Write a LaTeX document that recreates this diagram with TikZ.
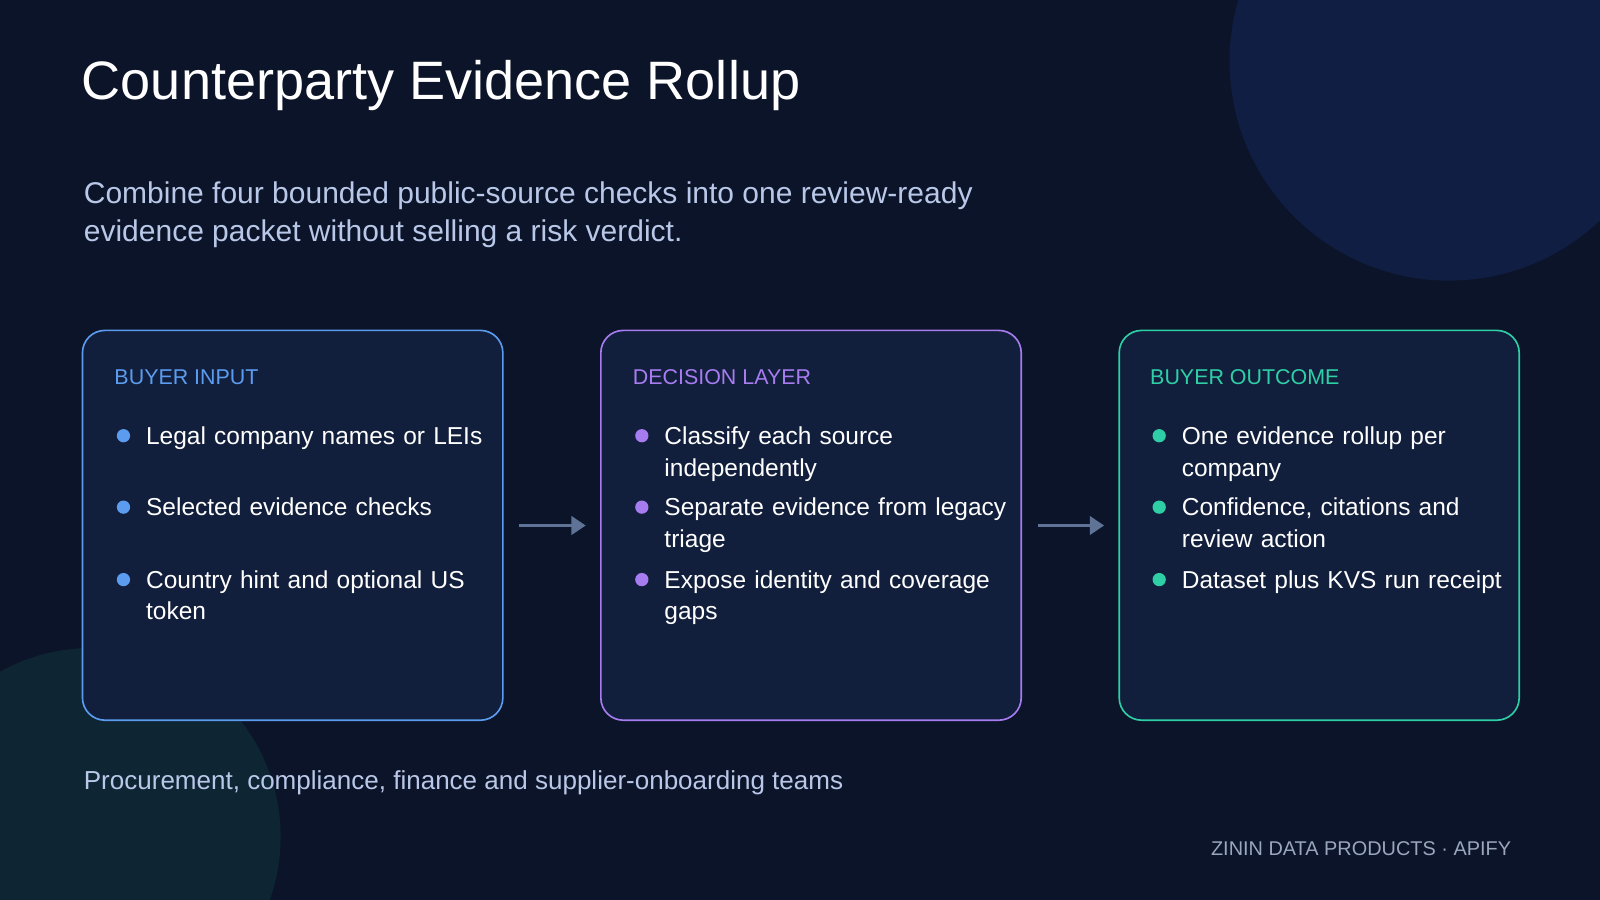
\documentclass[tikz,border=0pt]{standalone}
\usepackage{fontspec}
\setmainfont{Liberation Sans}
\usetikzlibrary{arrows.meta}
\definecolor{bg}{HTML}{0B1428}
\definecolor{boxfill}{HTML}{121F3C}
\definecolor{cblue}{HTML}{5B9CF0}
\definecolor{cpurple}{HTML}{A77CF0}
\definecolor{cteal}{HTML}{2ECFA6}
\definecolor{sub}{HTML}{B9C8E8}
\definecolor{arr}{HTML}{5E7396}
\definecolor{foot}{HTML}{9AA6BC}
\definecolor{circA}{HTML}{111E44}
\definecolor{circB}{HTML}{0E2534}
\begin{document}
\begin{tikzpicture}[x=1pt,y=-1pt,
  card/.style={draw=#1,line width=1.6pt,rounded corners=22pt,fill=boxfill},
  head/.style={anchor=base west,text=#1,font=\fontsize{21}{25}\selectfont,inner sep=0pt},
  item/.style={anchor=north west,text=white,font=\fontsize{24}{31}\selectfont,align=left,text width=345pt,inner sep=0pt},
  dot/.style={circle,fill=#1,minimum size=13pt,inner sep=0pt},
  flow/.style={draw=arr,line width=3pt,-{Triangle[length=14pt,width=18pt]}}]
\useasboundingbox (0,0) rectangle (1568,882);
\fill[bg] (0,0) rectangle (1568,882);
\begin{scope}
\clip (0,0) rectangle (1568,882);
\fill[circA] (1420,60) circle (215);
\fill[circB] (90,820) circle (185);
\end{scope}
\node[anchor=base west,text=white,font=\fontsize{53}{60}\selectfont,inner sep=0pt] (title) at (80,98) {Counterparty Evidence Rollup};
\node[anchor=north west,text=sub,font=\fontsize{29.4}{37.5}\selectfont,align=left,inner sep=0pt] (subt) at (82,178) {Combine four bounded public-source checks into one review-ready\\evidence packet without selling a risk verdict.};
% cards
\node[card=cblue,minimum width=412pt,minimum height=382pt,anchor=north west] (c1) at (80,323) {};
\node[card=cpurple,minimum width=412pt,minimum height=382pt,anchor=north west] (c2) at (588,323) {};
\node[card=cteal,minimum width=392pt,minimum height=382pt,anchor=north west] (c3) at (1096,323) {};
\node[head=cblue] (h1) at (112,377) {BUYER INPUT};
\node[head=cpurple] (h2) at (620,377) {DECISION LAYER};
\node[head=cteal] (h3) at (1127,377) {BUYER OUTCOME};
% card1
\node[dot=cblue] (d11) at (121,427) {}; \node[item] (t11) at (143,418) {Legal company names or LEIs};
\node[dot=cblue] (d12) at (121,497) {}; \node[item] (t12) at (143,488) {Selected evidence checks};
\node[dot=cblue] (d13) at (121,568) {}; \node[item] (t13) at (143,559) {Country hint and optional US\\token};
% card2
\node[dot=cpurple] (d21) at (629,427) {}; \node[item] (t21) at (651,418) {Classify each source\\independently};
\node[dot=cpurple] (d22) at (629,497) {}; \node[item] (t22) at (651,488) {Separate evidence from legacy\\triage};
\node[dot=cpurple] (d23) at (629,568) {}; \node[item] (t23) at (651,559) {Expose identity and coverage\\gaps};
% card3
\node[dot=cteal] (d31) at (1136,427) {}; \node[item] (t31) at (1158,418) {One evidence rollup per\\company};
\node[dot=cteal] (d32) at (1136,497) {}; \node[item] (t32) at (1158,488) {Confidence, citations and\\review action};
\node[dot=cteal] (d33) at (1136,568) {}; \node[item] (t33) at (1158,559) {Dataset plus KVS run receipt};
% arrows
\coordinate (a1) at (509,515); \coordinate (b1) at (574,515);
\coordinate (a2) at (1017,515); \coordinate (b2) at (1082,515);
\draw[flow] (a1) -- (b1);
\draw[flow] (a2) -- (b2);
\node[anchor=base west,text=sub,font=\fontsize{25.5}{30}\selectfont,inner sep=0pt] (aud) at (82,774) {Procurement, compliance, finance and supplier-onboarding teams};
\node[anchor=base east,text=foot,font=\fontsize{19.5}{23}\selectfont,inner sep=0pt] (brand) at (1481,838) {ZININ DATA PRODUCTS · APIFY};
\end{tikzpicture}
\end{document}
